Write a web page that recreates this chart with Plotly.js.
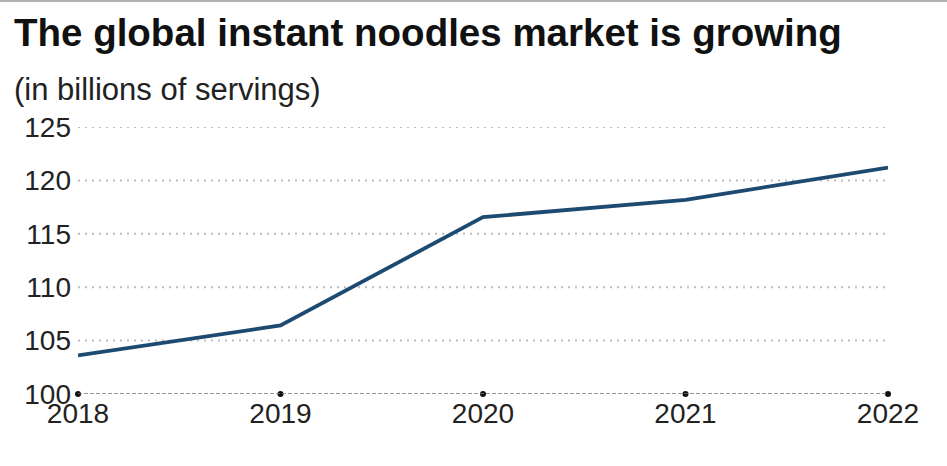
<!DOCTYPE html>
<html>
<head>
<meta charset="utf-8">
<script src="https://cdn.plot.ly/plotly-3.0.1.min.js"></script>
<style>html,body{margin:0;padding:0;background:#fff;}#chart{width:947px;height:466px;}</style>
</head>
<body>
<div id="chart"></div>
<script>
const years = [2018, 2019, 2020, 2021, 2022];
const servings = [103.62, 106.42, 116.56, 118.18, 121.2];
const yTicks = [100, 105, 110, 115, 120, 125];
const titleText = "The global instant noodles market is growing";
const subtitleText = "(in billions of servings)";

const W = 947, H = 466;
const M = {l: 78, r: 59, t: 127, b: 72};
const pw = W - M.l - M.r, ph = H - M.t - M.b;

const traces = [
  {
    x: years, y: servings, type: 'scatter', mode: 'lines',
    line: {color: '#1d4a70', width: 3.8}, hoverinfo: 'skip'
  },
  {
    x: years, y: years.map(() => yTicks[0]), type: 'scatter', mode: 'markers',
    marker: {color: '#111', size: 6}, cliponaxis: false, hoverinfo: 'skip'
  }
];

const gridShapes = yTicks.slice(1).map(v => ({
  type: 'line', xref: 'paper', yref: 'y', x0: 0, x1: 1, y0: v, y1: v,
  line: {color: '#bdbdbd', width: 2, dash: '2px,5px'}, layer: 'below'
}));

const layout = {
  width: W, height: H,
  margin: M,
  paper_bgcolor: '#fff', plot_bgcolor: '#fff',
  showlegend: false,
  font: {family: 'Liberation Sans, Arial, sans-serif', color: '#222'},
  title: {
    text: '<b>' + titleText + '</b>',
    font: {size: 38.5, color: '#111', family: 'Liberation Sans, Arial, sans-serif'},
    xref: 'container', yref: 'container', x: 14 / W, xanchor: 'left',
    y: 1 - 19 / H, yanchor: 'top'
  },
  annotations: [{
    text: subtitleText, xref: 'paper', yref: 'paper',
    x: -66 / pw, xanchor: 'left', y: 1 + (127 - 70) / ph, yanchor: 'top',
    showarrow: false, font: {size: 31, color: '#222'}
  }],
  xaxis: {
    range: [years[0], years[years.length - 1]],
    tickvals: years, ticktext: years.map(String),
    showgrid: false, zeroline: false, showline: false, ticks: '',
    tickfont: {size: 28, color: '#222'}, fixedrange: true
  },
  yaxis: {
    range: [yTicks[0], yTicks[yTicks.length - 1]],
    tickvals: yTicks, ticktext: yTicks.map(String),
    showgrid: false,
    zeroline: false, showline: false, ticks: '', ticklabelstandoff: 6,
    tickfont: {size: 28, color: '#222'}, fixedrange: true
  },
  shapes: gridShapes.concat([
    {type: 'line', xref: 'paper', yref: 'y', x0: 0, x1: 1, y0: yTicks[0], y1: yTicks[0],
     line: {color: '#777', width: 1.5, dash: '4px,2px'}, layer: 'above'},
    {type: 'line', xref: 'paper', yref: 'paper', x0: -M.l / pw, x1: 1 + M.r / pw,
     y0: 1 + (M.t - 1) / ph, y1: 1 + (M.t - 1) / ph, line: {color: '#999', width: 1.5}}
  ])
};

Plotly.newPlot('chart', traces, layout, {displayModeBar: false, staticPlot: true});
</script>
</body>
</html>
